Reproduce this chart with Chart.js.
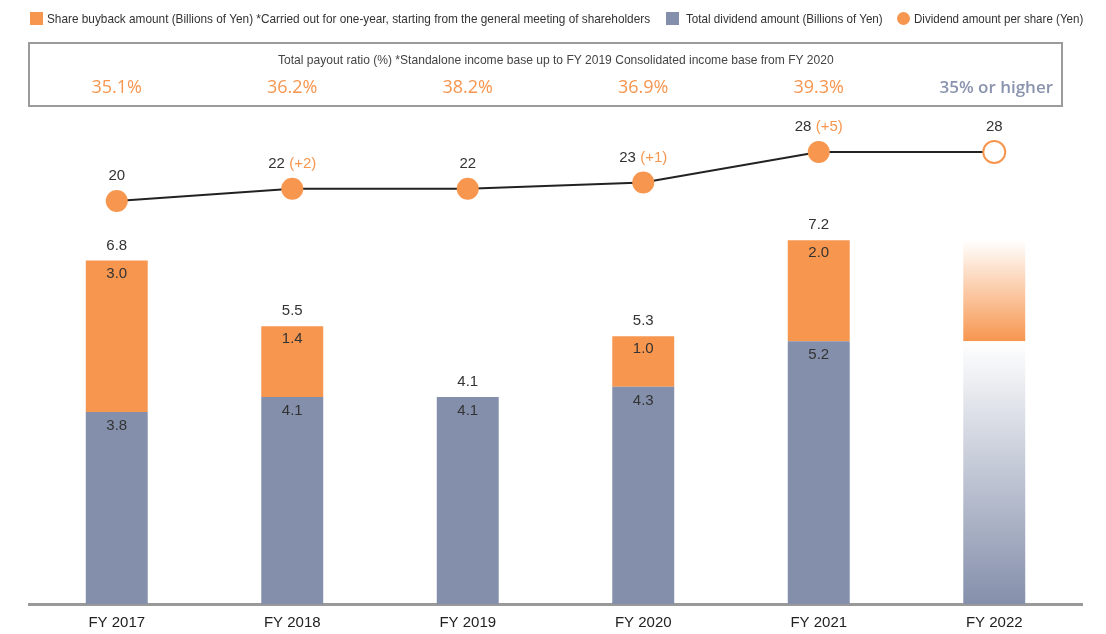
<!DOCTYPE html>
<html>
<head>
<meta charset="utf-8">
<script src="https://cdn.jsdelivr.net/npm/chart.js@4.4.1/dist/chart.umd.min.js"></script>
<style>
  body { margin: 0; background: #fff; }
  #wrap { position: relative; width: 1106px; height: 634px; overflow: hidden; }
  #myChart { position: absolute; left: 0; top: 0; }
  .narrow { font-family: "Liberation Sans", Arial, sans-serif; color: #333; white-space: nowrap; }
  .fit { display: inline-block; transform-origin: 0 50%; }
  .leg { position: absolute; top: 11px; font-size: 13px; line-height: 15px; }
  .leg i { position: absolute; left: 0; top: 1px; width: 13px; height: 13px; }
  .leg .fit { position: absolute; top: 0; }
  #box { position: absolute; left: 28px; top: 42px; width: 1031px; height: 61px; border: 2px solid #9b9b9b; }
  #boxTitle { position: absolute; left: 278px; top: 52px; font-size: 13px; color: #444; }
</style>
</head>
<body>
<div id="wrap">
  <canvas id="myChart" width="1106" height="642"></canvas>
  <div class="leg narrow" style="left:30px"><i style="background:#f7964f"></i><span class="fit" style="left:17px" data-w="603">Share buyback amount (Billions of Yen) *Carried out for one-year, starting from the general meeting of shareholders</span></div>
  <div class="leg narrow" style="left:666px"><i style="background:#848fab"></i><span class="fit" style="left:20px" data-w="197">Total dividend amount (Billions of Yen)</span></div>
  <div class="leg narrow" style="left:897px"><i style="background:#f7964f;border-radius:50%"></i><span class="fit" style="left:17px" data-w="169">Dividend amount per share (Yen)</span></div>
  <div id="box"></div>
  <div id="boxTitle" class="narrow"><span class="fit" data-w="556">Total payout ratio (%) *Standalone income base up to FY 2019 Consolidated income base from FY 2020</span></div>
</div>
<script>
const years = ["FY 2017", "FY 2018", "FY 2019", "FY 2020", "FY 2021", "FY 2022"];
const dividendTotal = [3.8, 4.1, 4.1, 4.3, 5.2, 5.2];
const buyback = [3.0, 1.4, null, 1.0, 2.0, 2.0];
const barTotals = ["6.8", "5.5", "4.1", "5.3", "7.2", ""];
const perShare = [20, 22, 22, 23, 28, 28];
const perShareChange = ["", "+2", "", "+1", "+5", ""];
const payoutRatio = ["35.1%", "36.2%", "38.2%", "36.9%", "39.3%", "35% or higher"];

const ORANGE = "#f7964f";
const BLUE = "#848fab";
const PLAN = 5; // FY 2022 is a forecast

// squeeze the condensed-looking texts to the width they have in the original
document.querySelectorAll(".fit").forEach((el) => {
  const w = +el.dataset.w;
  el.style.transform = "scaleX(" + (w / el.offsetWidth) + ")";
});

function planFill(ctx, from, to, c0, c1) {
  const chart = ctx.chart;
  const y = chart.scales.y;
  if (!chart.chartArea || !y) return c1;
  const g = chart.ctx.createLinearGradient(0, y.getPixelForValue(to), 0, y.getPixelForValue(from));
  g.addColorStop(0, c0);
  g.addColorStop(1, c1);
  return g;
}

const labelsPlugin = {
  id: "labels",
  afterDatasetsDraw(chart) {
    const c = chart.ctx;
    const div = chart.getDatasetMeta(0).data;
    const buy = chart.getDatasetMeta(1).data;
    const pts = chart.getDatasetMeta(2).data;
    c.save();
    c.textAlign = "center";
    c.textBaseline = "middle";
    c.font = "15px 'Liberation Sans', Arial, sans-serif";
    c.fillStyle = "#333";
    for (let i = 0; i < PLAN; i++) {
      c.fillText(dividendTotal[i].toFixed(1), div[i].x, div[i].y + 14);
      let top = div[i].y;
      if (buyback[i] != null) {
        c.fillText(buyback[i].toFixed(1), buy[i].x, buy[i].y + 13);
        top = buy[i].y;
      }
      c.fillText(barTotals[i], div[i].x, top - 15);
    }
    // per-share labels
    c.textAlign = "left";
    pts.forEach((p, i) => {
      const a = String(perShare[i]);
      const b = perShareChange[i] ? " (" + perShareChange[i] + ")" : "";
      const w = c.measureText(a + b).width;
      const x0 = p.x - w / 2;
      c.fillStyle = "#333";
      c.fillText(a, x0, p.y - 25);
      if (b) {
        c.fillStyle = ORANGE;
        c.fillText(b, x0 + c.measureText(a).width, p.y - 25);
      }
    });
    // payout ratios
    c.textAlign = "center";
    payoutRatio.forEach((t, i) => {
      let x = chart.scales.x.getPixelForValue(i);
      if (i === PLAN) {
        c.font = "600 17px 'Open Sans', sans-serif";
        c.fillStyle = "#8a93ad";
        x += 2;
      } else {
        c.font = "18px 'Open Sans', sans-serif";
        c.fillStyle = ORANGE;
      }
      c.fillText(t, x, 88);
    });
    c.restore();
  }
};

new Chart(document.getElementById("myChart"), {
  type: "bar",
  data: {
    labels: years,
    datasets: [
      {
        label: "Total dividend amount (Billions of Yen)",
        data: dividendTotal,
        backgroundColor: (ctx) => ctx.dataIndex === PLAN
          ? planFill(ctx, 0, dividendTotal[PLAN], "rgba(255,255,255,1)", BLUE) : BLUE,
        stack: "s",
        order: 2
      },
      {
        label: "Share buyback amount (Billions of Yen)",
        data: buyback,
        backgroundColor: (ctx) => ctx.dataIndex === PLAN
          ? planFill(ctx, dividendTotal[PLAN], dividendTotal[PLAN] + buyback[PLAN], "rgba(247,150,79,0)", ORANGE) : ORANGE,
        stack: "s",
        order: 2
      },
      {
        type: "line",
        label: "Dividend amount per share (Yen)",
        data: perShare,
        yAxisID: "y2",
        borderColor: "#222",
        borderWidth: 2,
        pointRadius: 11,
        pointHoverRadius: 11,
        pointBackgroundColor: perShare.map((v, i) => i === PLAN ? "#fff" : ORANGE),
        pointBorderColor: ORANGE,
        pointBorderWidth: perShare.map((v, i) => i === PLAN ? 2 : 0),
        order: 0
      }
    ]
  },
  options: {
    responsive: false,
    animation: false,
    events: [],
    layout: { padding: { left: 29, right: 24, top: 110, bottom: 0 } },
    plugins: { legend: { display: false }, tooltip: { enabled: false } },
    datasets: { bar: { categoryPercentage: 1, barPercentage: 0.353 } },
    scales: {
      x: {
        stacked: true,
        grid: { display: false, drawTicks: false },
        border: { display: true, color: "#999", width: 3 },
        ticks: { color: "#222", padding: 10, font: { size: 15, family: "'Liberation Sans', Arial, sans-serif" } }
      },
      y: { stacked: true, display: false, min: 0, max: 9.78 },
      y2: { display: false, min: -45.8, max: 34.85 }
    }
  },
  plugins: [labelsPlugin]
});
</script>
</body>
</html>
